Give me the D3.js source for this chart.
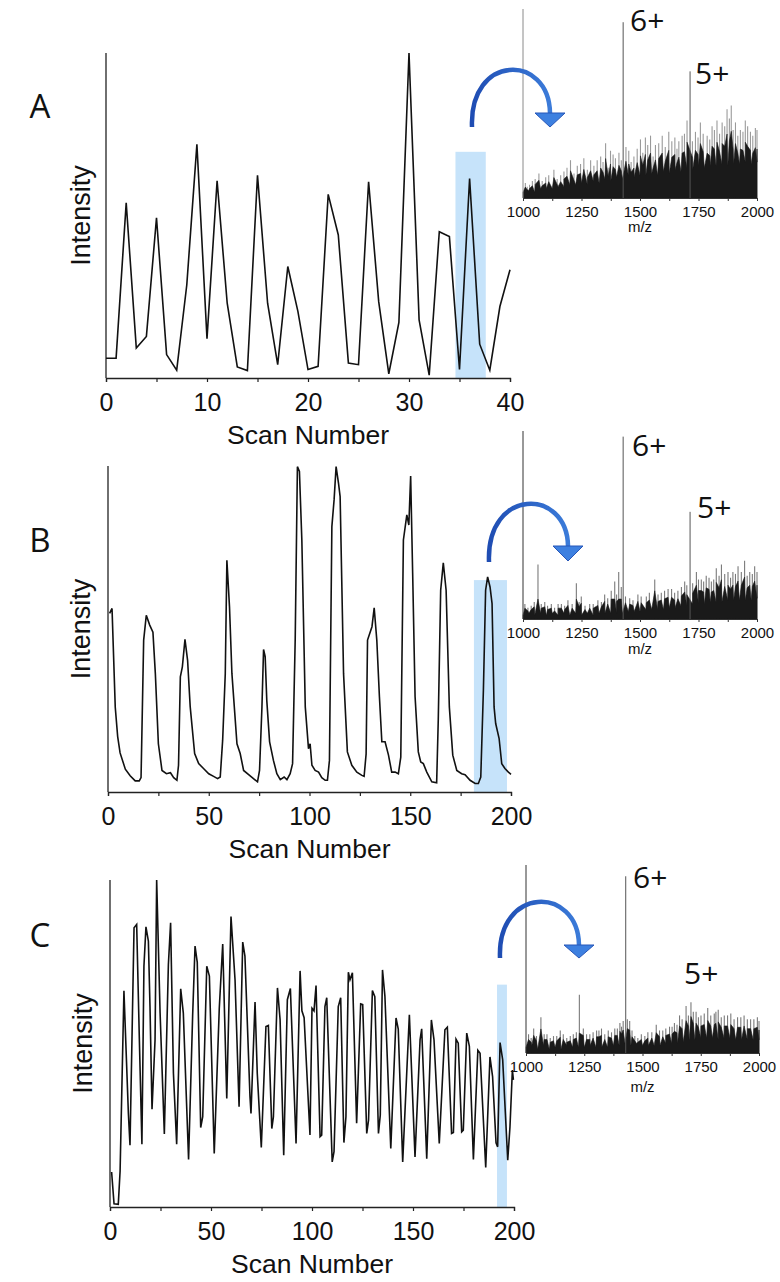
<!DOCTYPE html>
<html><head><meta charset="utf-8">
<script src="https://cdn.jsdelivr.net/npm/d3@7"></script>
<style>body{margin:0;background:#fff}svg{display:block}</style>
</head><body>
<svg id="c" width="780" height="1282"></svg>
<script>
// ---------------- DATA ----------------
const scanA = [0,1,2,3,4,5,6,7,8,9,10,11,12,13,14,15,16,17,18,19,20,21,22,23,24,25,26,27,28,29,30,31,32,33,34,35,36,37,38,39,40];
const intA  = [0.061,0.061,0.539,0.092,0.128,0.493,0.072,0.024,0.287,0.719,0.121,0.607,0.230,0.034,0.023,0.624,0.230,0.041,0.343,0.205,0.026,0.036,0.565,0.440,0.046,0.041,0.604,0.235,0.013,0.171,1.0,0.179,0.009,0.450,0.435,0.026,0.614,0.104,0.024,0.220,0.333];

const scanB = [0.8,2,3.6,4.8,6,8.6,11,13.5,15.5,16.4,17.7,19,20.7,22.3,23.5,25,26.8,29,31,32.6,34.2,35,35.9,36.9,38.2,39.5,40.8,43,45,47.4,50,52.4,54.4,55.7,56.9,58.2,59,60.3,61.5,64,65.6,67.3,69.8,72.2,74.2,75.2,76.4,77.2,78,78.8,80.2,82.1,83.8,85.5,87.4,88.8,90.4,91.6,92.9,94,95,96.2,97.9,99.5,100.3,101.2,102.8,104.5,106.1,107.8,108.9,109.9,111.1,112.2,113.2,114.4,115.2,116.9,118.8,121,123.5,126,127.1,128.1,128.8,131,132.1,133.4,134.7,135.9,137.5,139.2,140.8,142.5,144.1,145.3,146.6,148.3,149.3,150.2,151.2,152.4,154,155.2,156.5,158.2,160.7,163.1,163.9,165.1,166.4,167.8,169.4,171.1,173.1,175.5,177.2,179.7,182.2,183.8,185,186.3,187.4,188.4,189.6,190.6,191.6,192.4,194.1,195.4,197,198.7,200];
const intB  = [0.548,0.563,0.26,0.17,0.12,0.07,0.05,0.034,0.034,0.044,0.466,0.542,0.512,0.49,0.363,0.148,0.066,0.056,0.059,0.044,0.036,0.082,0.353,0.384,0.468,0.404,0.261,0.118,0.087,0.072,0.056,0.048,0.041,0.046,0.159,0.363,0.711,0.568,0.363,0.148,0.118,0.066,0.053,0.041,0.031,0.066,0.261,0.437,0.415,0.281,0.154,0.097,0.056,0.038,0.046,0.038,0.056,0.087,0.466,0.998,0.983,0.773,0.261,0.133,0.148,0.082,0.066,0.061,0.044,0.036,0.036,0.097,0.814,0.896,0.998,0.947,0.906,0.363,0.123,0.082,0.061,0.051,0.048,0.117,0.466,0.507,0.565,0.466,0.292,0.154,0.154,0.113,0.061,0.061,0.056,0.107,0.773,0.85,0.819,0.969,0.67,0.292,0.123,0.092,0.087,0.061,0.031,0.028,0.22,0.619,0.703,0.619,0.261,0.113,0.066,0.056,0.053,0.036,0.026,0.026,0.046,0.312,0.619,0.66,0.629,0.578,0.261,0.21,0.164,0.087,0.072,0.061,0.054];

const scanC = [0.8,2,4.1,5,6.9,9.1,9.9,11.9,13.2,14.5,15.8,16.8,17.8,19,19.8,20.8,22.3,23.1,24.8,26.9,28.9,30,31.4,33,35,36.3,38.9,40.9,42.1,43.2,44.9,45.9,47.9,49.2,51.6,54.1,55.8,57.8,59.9,61.9,63.9,65.7,66.8,69.3,69.8,71.8,72.9,74.9,77.2,78.4,80.1,80.9,82.9,84.2,86,87.8,89.3,92.1,94.1,95,96.1,99,100,101,102,104,104.8,106.4,107.3,110,110.9,113,114.2,115.8,116.8,118,118.8,120,122.1,124.1,125.1,127.1,128,129.9,131.1,132.9,133.8,134.9,136.1,139,141.6,142.7,144.9,148.2,151,153.5,154.3,156.8,159.1,160.4,163,165.8,167,169.1,170,171.3,172.4,174.1,174.9,176.6,177.9,179.9,182.1,183.2,186,188.1,189.4,191.1,191.9,193.1,194.4,196.9,198,199.2,199.7];
const intC  = [0.107,0.01,0.008,0.11,0.661,0.286,0.189,0.854,0.864,0.521,0.192,0.736,0.857,0.813,0.613,0.299,0.511,1.0,0.593,0.223,0.741,0.869,0.409,0.192,0.667,0.593,0.145,0.583,0.798,0.748,0.243,0.276,0.736,0.706,0.164,0.608,0.804,0.332,0.888,0.695,0.307,0.81,0.767,0.337,0.286,0.627,0.409,0.182,0.552,0.555,0.24,0.276,0.67,0.573,0.158,0.634,0.668,0.194,0.722,0.6,0.579,0.22,0.608,0.6,0.677,0.215,0.22,0.613,0.64,0.138,0.169,0.613,0.64,0.197,0.276,0.718,0.695,0.716,0.256,0.621,0.619,0.225,0.266,0.662,0.643,0.225,0.281,0.725,0.644,0.179,0.578,0.544,0.138,0.588,0.153,0.511,0.545,0.148,0.572,0.511,0.194,0.542,0.55,0.225,0.228,0.513,0.501,0.23,0.235,0.532,0.491,0.145,0.479,0.47,0.121,0.459,0.399,0.196,0.184,0.503,0.45,0.143,0.245,0.419,0.389];

// highlighted scan windows: [start, end, top (fraction of max)]
const hlA = [34.6, 37.6, 0.696];
const hlB = [181.6, 198.0, 0.65];
const hlC = [191.6, 196.5, 0.68];

const scanTicksA = [0,10,20,30,40];
const scanMinorA = [5,15,25,35];
const scanTicksBC = [0,50,100,150,200];
const scanMinorBC = [25,75,125,175];
const mzTicks = [1000,1250,1500,1750,2000];
const mzMinor = [1125,1375,1625,1875];

// mass spectra: dense baseline (every 25 m/z from 1000 to 2000), noise spikes, charge-state peaks (% of max)
const baseMz = [1000,1025,1050,1075,1100,1125,1150,1175,1200,1225,1250,1275,1300,1325,1350,1375,1400,1425,1450,1475,1500,1525,1550,1575,1600,1625,1650,1675,1700,1725,1750,1775,1800,1825,1850,1875,1900,1925,1950,1975,2000];
const baseA = [3,4,3,5,5,5,6,6,7,7,8,7,9,8,10,9,11,10,12,11,12,12,13,12,14,13,15,14,16,15,17,16,17,17,18,17,18,18,19,18,19];
const baseB = [2,3,2,3,2,3,2,3,2,3,2,3,2,3,3,3,3,3,4,4,4,5,5,5,5,6,6,7,7,8,8,8,9,9,9,10,10,10,10,10,11];
const baseC = [3,4,2,4,2,3,2,4,3,3,3,4,3,3,3,4,4,5,4,5,4,4,4,4,5,5,5,6,7,7,8,8,8,7,8,8,7,7,7,7,7];

const noiseMzA  = [1010,1018,1028,1040,1052,1068,1082,1097,1110,1132,1146,1161,1175,1188,1203,1218,1232,1246,1260,1275,1289,1303,1317,1332,1342,1353,1364,1374,1385,1395,1410,1420,1440,1452,1462,1474,1488,1502,1512,1523,1533,1545,1556,1566,1580,1595,1608,1623,1636,1649,1658,1666,1680,1690,1701,1724,1737,1748,1758,1770,1787,1798,1808,1818,1829,1840,1851,1862,1872,1882,1890,1898,1908,1918,1929,1940,1950,1960,1972,1982,1993,2000];
const noiseA    = [8,6,7,9,10,13,9,11,12,15,10,12,14,16,20,13,17,18,21,15,20,17,20,22,19,29,16,25,23,21,24,20,27,25,19,22,26,31,24,32,28,33,22,28,29,33,27,35,30,32,26,30,33,34,41,30,35,32,40,34,33,31,38,36,41,34,40,38,47,42,49,36,40,33,36,35,41,38,35,33,37,36];
const noiseMzB  = [1008,1021,1035,1048,1064,1078,1093,1105,1121,1135,1150,1164,1178,1192,1210,1228,1240,1249,1265,1285,1300,1320,1335,1349,1362,1377,1392,1400,1409,1420,1438,1456,1470,1491,1505,1527,1540,1563,1577,1591,1605,1620,1635,1648,1662,1677,1691,1700,1725,1741,1750,1762,1772,1783,1795,1805,1815,1826,1838,1848,1862,1876,1887,1897,1908,1919,1933,1947,1958,1969,1980,1990,2000];
const noiseB    = [8,6,7,9,29,8,9,7,8,6,8,8,7,10,8,19,9,12,7,8,8,10,9,13,11,15,20,13,25,17,12,11,10,13,12,12,14,21,13,14,15,16,16,14,15,17,20,18,19,25,21,21,20,23,22,20,21,27,23,29,24,25,22,25,24,28,25,31,23,25,24,28,25];
const noiseMzC  = [1011,1022,1033,1045,1064,1078,1090,1104,1118,1132,1147,1160,1175,1190,1203,1216,1229,1246,1260,1274,1288,1303,1313,1324,1338,1353,1367,1381,1392,1403,1410,1417,1435,1445,1455,1467,1480,1495,1510,1523,1540,1559,1573,1587,1600,1616,1627,1637,1648,1659,1670,1687,1697,1708,1718,1730,1740,1751,1765,1780,1793,1808,1815,1825,1838,1851,1865,1879,1893,1908,1922,1936,1950,1964,1978,1993,2000];
const noiseC    = [10,8,13,9,19,10,10,8,9,9,12,10,8,9,10,11,31,13,10,10,11,12,12,13,10,12,11,13,13,16,14,17,18,17,12,9,8,10,9,11,11,15,12,12,13,14,14,16,15,20,18,25,20,27,22,22,19,20,21,24,20,21,22,23,19,20,20,21,18,19,19,20,18,18,18,19,17];

const peakMz  = [1428, 1714];          // 6+, 5+
const peaksA  = [93, 67];
const peaksB  = [97, 57];
const peaksC  = [94, 0];
const chargeLabels = ["6+", "5+"];
const panelLetters = ["A", "B", "C"];

// ---------------- LAYOUT ----------------
const svg = d3.select("#c");
const MAIN_FONT = "'Liberation Sans', Arial, sans-serif";
const LBL_FONT = "'Open Sans', 'Liberation Sans', sans-serif";

const defs = svg.append("defs");
const grad = defs.append("linearGradient").attr("id","arcg").attr("x1","0").attr("x2","1").attr("y1","0").attr("y2","0");
grad.append("stop").attr("offset","0").attr("stop-color","#1f4db3");
grad.append("stop").attr("offset","1").attr("stop-color","#3b7bd9");

const panels = [
  {letter: panelLetters[0], scans: scanA, ints: intA, hl: hlA, dom:[0,40], ticks: scanTicksA, minor: scanMinorA,
   x0:106, x1:510, yTop:53, yBot:378, intX:90, letterY:106,
   spec:{x0:523,x1:757,yTop:9,yBot:198, base: baseA, nMz: noiseMzA, n: noiseA, peaks: peaksA, mzLblY:232,
         lbl:[[630,31],[695,84]], axisCol:"#8a8a8a", tip:"#9a9a9a"},
   arrow:{lx:472,ly:127,rx:550,ry:113,top:70,tip:127}},
  {letter: panelLetters[1], scans: scanB, ints: intB, hl: hlB, dom:[0,200], ticks: scanTicksBC, minor: scanMinorBC,
   x0:108, x1:511, yTop:466, yBot:792, intX:90, letterY:540,
   spec:{x0:523,x1:757,yTop:431,yBot:619, base: baseB, nMz: noiseMzB, n: noiseB, peaks: peaksB, mzLblY:654,
         lbl:[[632,456],[697,518]], axisCol:"#333", tip:"#7a7a7a"},
   arrow:{lx:489,ly:562,rx:568,ry:546,top:504,tip:561}},
  {letter: panelLetters[2], scans: scanC, ints: intC, hl: hlC, dom:[0,200], ticks: scanTicksBC, minor: scanMinorBC,
   x0:110, x1:514, yTop:880, yBot:1207, intX:92, letterY:935,
   spec:{x0:526,x1:759,yTop:865,yBot:1053, base: baseC, nMz: noiseMzC, n: noiseC, peaks: peaksC, mzLblY:1092,
         lbl:[[633,888],[684,984]], axisCol:"#333", tip:"#7a7a7a"},
   arrow:{lx:500,ly:958,rx:579,ry:945,top:902,tip:958}}
];

panels.forEach(p => {
  const g = svg.append("g");
  const x = d3.scaleLinear().domain(p.dom).range([p.x0, p.x1]);
  const y = d3.scaleLinear().domain([0,1]).range([p.yBot, p.yTop]);

  // highlight band
  g.append("rect").attr("x", x(p.hl[0])).attr("width", x(p.hl[1]) - x(p.hl[0]))
    .attr("y", y(p.hl[2])).attr("height", y(0) - y(p.hl[2])).attr("fill", "#c6e3fa");

  // y axis line
  g.append("line").attr("x1", p.x0).attr("x2", p.x0).attr("y1", p.yTop).attr("y2", p.yBot)
    .attr("stroke", "#222").attr("stroke-width", 1.3);

  // x axis
  const ax = g.append("g").attr("transform", `translate(0,${p.yBot})`)
    .call(d3.axisBottom(x).tickValues(p.ticks.concat(p.minor).sort((a,b)=>a-b))
      .tickSize(4).tickPadding(11).tickFormat(d => p.ticks.includes(d) ? d : ""));
  ax.select(".domain").attr("stroke", "#222").attr("stroke-width", 1.3);
  ax.selectAll(".tick line").attr("stroke", "#222").attr("stroke-width", 1.2);
  ax.selectAll("text").attr("font-family", MAIN_FONT).attr("font-size", 25).attr("fill", "#111");

  // line
  const pts = p.scans.map((s,i) => [s, p.ints[i]]);
  g.append("path").datum(pts)
    .attr("d", d3.line().x(d => x(d[0])).y(d => y(d[1])))
    .attr("fill", "none").attr("stroke", "#111").attr("stroke-width", 1.6).attr("stroke-linejoin", "miter");

  // titles
  g.append("text").attr("x", (p.x0 + p.x1)/2).attr("y", p.yBot + 66)
    .attr("text-anchor", "middle").attr("font-family", MAIN_FONT).attr("font-size", 26.5).attr("fill", "#111")
    .text("Scan Number");
  g.append("text").attr("transform", `translate(${p.intX},${(p.yTop + p.yBot)/2}) rotate(-90)`)
    .attr("text-anchor", "middle").attr("font-family", MAIN_FONT).attr("font-size", 27).attr("fill", "#111")
    .text("Intensity");
  g.append("text").attr("x", 40).attr("y", p.letterY + 12).attr("text-anchor", "middle")
    .attr("font-family", LBL_FONT).attr("font-size", 33).attr("fill", "#111").text(p.letter);

  // ---- spectrum ----
  const s = p.spec;
  const sx = d3.scaleLinear().domain([1000,2000]).range([s.x0, s.x1]);
  const sy = d3.scaleLinear().domain([0,100]).range([s.yBot, s.yTop]);
  const sg = svg.append("g");
  const noise = s.nMz.map((m,i)=>[m, s.n[i]]);
  const baseAt = m => s.base[Math.min(s.base.length-1, Math.round((m-1000)/25))];
  // noise spikes: grey full-height tips
  sg.selectAll("line.gs").data(noise).join("line").attr("class","gs")
    .attr("x1", d => sx(d[0])).attr("x2", d => sx(d[0])).attr("y1", sy(0)).attr("y2", d => sy(d[1]))
    .attr("stroke", s.tip).attr("stroke-width", 1.1);
  // dense dark region: jagged envelope through baseline points and the lower part of each spike
  const env = baseMz.map((m,i)=>[m, s.base[i]])
    .concat(noise.map(d => [d[0], Math.min(d[1]*0.72, baseAt(d[0])*2.2 + 4)]))
    .sort((a,b) => a[0]-b[0]);
  sg.append("path").datum(env)
    .attr("d", d3.area().x(d => sx(d[0])).y0(sy(0)).y1(d => sy(d[1])))
    .attr("fill", "#1a1a1a").attr("stroke", "#1a1a1a").attr("stroke-width", 0.6);
  // charge-state peaks
  sg.selectAll("line.pk").data(peakMz.map((m,i)=>[m, s.peaks[i]]).filter(d => d[1] > 0)).join("line").attr("class","pk")
    .attr("x1", d => sx(d[0])).attr("x2", d => sx(d[0])).attr("y1", sy(0)).attr("y2", d => sy(d[1]))
    .attr("stroke", "#555").attr("stroke-width", 1);
  // spectrum axes
  sg.append("line").attr("x1", s.x0).attr("x2", s.x0).attr("y1", s.yTop).attr("y2", s.yBot)
    .attr("stroke", s.axisCol).attr("stroke-width", 1);
  const sax = sg.append("g").attr("transform", `translate(0,${s.yBot})`)
    .call(d3.axisBottom(sx).tickValues(mzTicks.concat(mzMinor).sort((a,b)=>a-b))
      .tickSize(3).tickPadding(5).tickFormat(d => mzTicks.includes(d) ? d : ""));
  sax.select(".domain").attr("stroke", "#333").attr("stroke-width", 1);
  sax.selectAll(".tick line").attr("stroke", "#333");
  sax.selectAll("text").attr("font-family", MAIN_FONT).attr("font-size", 15).attr("fill", "#111");
  sg.append("text").attr("x", (s.x0 + s.x1)/2).attr("y", s.mzLblY)
    .attr("text-anchor", "middle").attr("font-family", MAIN_FONT).attr("font-size", 15).attr("fill", "#111").text("m/z");
  chargeLabels.forEach((t,i) => {
    sg.append("text").attr("x", s.lbl[i][0]).attr("y", s.lbl[i][1])
      .attr("font-family", LBL_FONT).attr("font-size", 30).attr("fill", "#111").text(t);
  });

  // ---- arrow ----
  const a = p.arrow;
  const c = (a.top - 0.125*(a.ly + a.ry)) / 0.75;
  const path = d3.path();
  path.moveTo(a.lx, a.ly);
  path.bezierCurveTo(a.lx - 3, c, a.rx - 1, c, a.rx, a.ry);
  svg.append("path").attr("d", path.toString()).attr("fill", "none")
    .attr("stroke", "url(#arcg)").attr("stroke-width", 4.5);
  svg.append("path").attr("d", `M${a.rx-15},${a.ry}L${a.rx+15},${a.ry}L${a.rx},${a.tip}Z`)
    .attr("fill", "#3d80e0").attr("stroke", "#2756b8").attr("stroke-width", 1).attr("stroke-linejoin", "round");
});
</script>
</body></html>
